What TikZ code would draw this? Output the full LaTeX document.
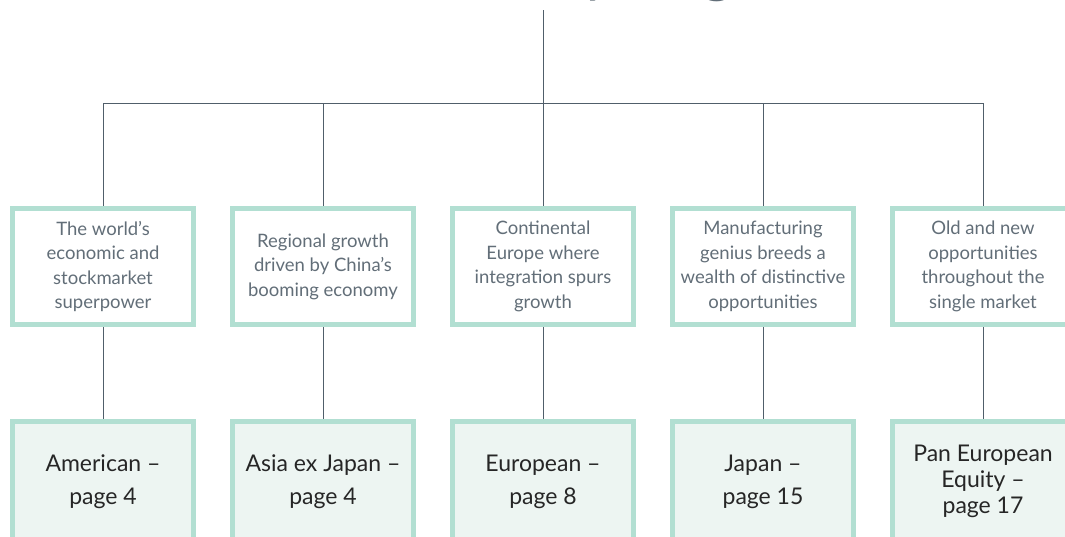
\documentclass[tikz,border=0pt]{standalone}
\usepackage{fontspec}
\setmainfont{Lato}
\usetikzlibrary{positioning,calc}
\definecolor{mintline}{RGB}{178,223,210}
\definecolor{mintfill}{RGB}{237,245,242}
\definecolor{slate}{RGB}{80,94,106}
\definecolor{greytext}{RGB}{98,110,120}

\begin{document}
\begin{tikzpicture}[x=1pt, y=-1pt,
    aim/.style={draw=mintline, line width=5pt, fill=white, inner sep=0pt,
      minimum width=181pt, minimum height=116pt, align=center,
      text=greytext, font=\fontsize{18.5}{24.5}\selectfont},
    fund/.style={aim, fill=mintfill, minimum height=120pt,
      text=black!85, font=\fontsize{23}{33}\selectfont},
    link/.style={draw=slate, line width=1pt}]
    \useasboundingbox (0,0) rectangle (1065,536);
    \clip (0,0) rectangle (1065,536);
    % title, only its descenders fall inside the page
    \node[anchor=base, font=\fontsize{62}{62}\selectfont, text=greytext] (titley) at (598,-10) {y};
    \node[anchor=base, font=\fontsize{62}{62}\selectfont, text=greytext] (titleg) at (718,-10) {g};
    \coordinate (root) at (543,10);
    \coordinate (hub) at (543,103);
    \foreach \i/\aimtext/\fundtext in {
        0/{The world’s\\economic and\\stockmarket\\superpower}/{American –\\page 4},
        1/{Regional growth\\driven by China’s\\booming economy}/{Asia ex Japan –\\page 4},
        2/{Continental\\Europe where\\integration spurs\\growth}/{European –\\page 8},
        3/{Manufacturing\\genius breeds a\\wealth of distinctive\\opportunities}/{Japan –\\page 15}} {
      \node[aim] (aim\i) at (103+220*\i,266.5) {\aimtext};
      \node[fund] (fund\i) at (103+220*\i,481.5) {\fundtext};
    }
    \node[aim] (aim4) at (983,266.5) {Old and new\\opportunities\\throughout the\\single market};
    \node[fund, font=\fontsize{23}{26}\selectfont] (fund4) at (983,481.5) {Pan European\\Equity –\\page 17};
    % connectors
    \draw[link] (root) -- (hub);
    \draw[link] (aim0.north |- hub) -- (aim4.north |- hub);
    \foreach \i in {0,...,4} {
      \draw[link] (aim\i.north |- hub) -- (aim\i.north);
      \draw[link] (aim\i.south) -- (fund\i.north);
    }
\end{tikzpicture}
\end{document}
